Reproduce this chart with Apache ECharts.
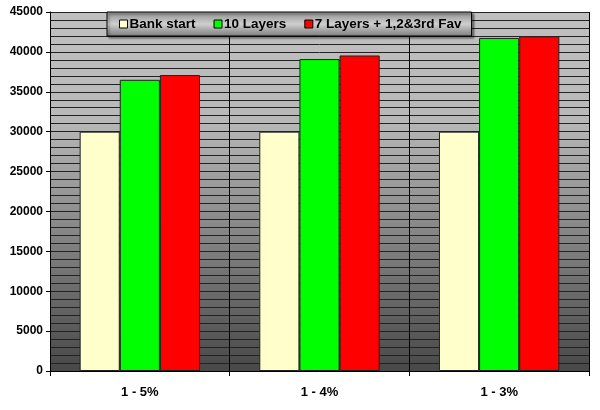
<!DOCTYPE html>
<html><head><meta charset="utf-8">
<script src="https://cdn.jsdelivr.net/npm/echarts@6/dist/echarts.min.js"></script>
<style>html,body{margin:0;padding:0;background:#fff}#c{width:600px;height:410px}</style>
</head><body><div id="c"></div>
<script>
const categories = ['1 - 5%', '1 - 4%', '1 - 3%'];
const seriesNames = ['Bank start', '10 Layers', '7 Layers + 1,2&3rd Fav'];
const bankStart = [30000, 30000, 30000];
const tenLayers = [36500, 39100, 41750];
const sevenLayers = [37100, 39550, 41950];
const colors = ['#ffffcc', '#00ff00', '#ff0000'];

const chart = echarts.init(document.getElementById('c'));
const font = 'Arial, "Liberation Sans", sans-serif';
function mk(name, data, color) {
  return {
    name: name, type: 'bar', data: data, barGap: '0%', barCategoryGap: '33%',
    itemStyle: { color: color, borderColor: '#222', borderWidth: 1 }
  };
}
chart.setOption({
  animation: false,
  backgroundColor: '#fff',
  grid: {
    left: 50, right: 11, top: 12, bottom: 39, show: true, borderWidth: 0,
    backgroundColor: {
      type: 'linear', x: 0, y: 0, x2: 0, y2: 1,
      colorStops: [
        { offset: 0, color: '#c0c0c0' },
        { offset: 0.3, color: '#b8b8b8' },
        { offset: 1, color: '#484848' }
      ]
    }
  },
  legend: {
    left: 107, top: 12,
    itemWidth: 8, itemHeight: 8, itemGap: 18, icon: 'rect',
    padding: [5, 10, 5, 12],
    borderColor: '#000', borderWidth: 1,
    backgroundColor: {
      type: 'linear', x: 0, y: 0, x2: 0, y2: 1,
      colorStops: [
        { offset: 0, color: '#8c8c8c' },
        { offset: 0.5, color: '#cfcfcf' },
        { offset: 1, color: '#7a7a7a' }
      ]
    },
    shadowColor: 'rgba(0,0,0,0.4)', shadowOffsetX: 2, shadowOffsetY: 2, shadowBlur: 2,
    itemStyle: { borderColor: '#000', borderWidth: 1 },
    textStyle: { fontFamily: font, fontWeight: 'bold', fontSize: 13.5, color: '#000', padding: [0, 0, 0, -3] },
    data: seriesNames
  },
  xAxis: {
    type: 'category', data: categories,
    axisLine: { lineStyle: { color: '#000', width: 1 } },
    axisTick: { show: true, length: 5, lineStyle: { color: '#000' } },
    splitLine: { show: true, lineStyle: { color: '#000', width: 1 } },
    axisLabel: { fontFamily: font, fontWeight: 'bold', fontSize: 13, color: '#000', margin: 15 }
  },
  yAxis: {
    type: 'value', min: 0, max: 45000, interval: 5000,
    axisLine: { show: true, lineStyle: { color: '#000' } },
    axisTick: { show: true, length: 4, lineStyle: { color: '#000' } },
    minorTick: { show: false, splitNumber: 5 },
    minorSplitLine: { show: true, lineStyle: { color: '#222', width: 1 } },
    splitLine: { show: true, lineStyle: { color: '#222', width: 1 } },
    axisLabel: { fontFamily: font, fontWeight: 'bold', fontSize: 12, color: '#000', margin: 7,
      formatter: function (v) { return String(v); } }
  },
  series: [
    mk(seriesNames[0], bankStart, colors[0]),
    mk(seriesNames[1], tenLayers, colors[1]),
    mk(seriesNames[2], sevenLayers, colors[2])
  ]
});
</script></body></html>
